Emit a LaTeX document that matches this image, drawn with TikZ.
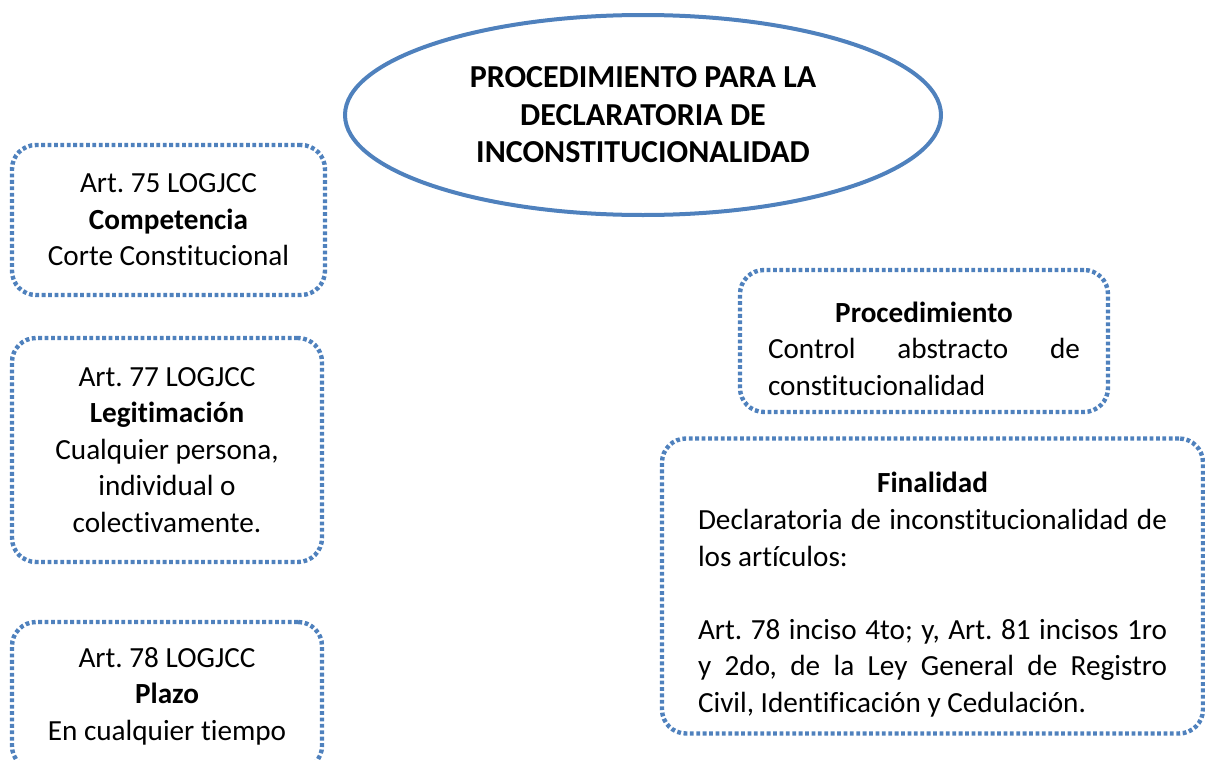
\documentclass[tikz,border=0pt]{standalone}
\usepackage{fontspec}
\setmainfont{Carlito}[Ligatures=NoCommon]
\usepackage{tikz}
\usetikzlibrary{shapes.geometric}
\definecolor{wordblue}{HTML}{4F81BD}
\frenchspacing

\begin{document}
\begin{tikzpicture}[x=0.5pt,y=-0.5pt,
  dotbox/.style={draw=wordblue, line width=2.2pt, dash pattern=on 1.9pt off 1.3pt,
    rounded corners=12pt, align=center, inner sep=0pt,
    font=\fontsize{14.6}{18.3}\selectfont},
  titleoval/.style={ellipse, draw=wordblue, line width=2pt, inner sep=0pt,
    align=center, font=\fontsize{16}{18.8}\selectfont\bfseries}]
\useasboundingbox (0,0) rectangle (1205,760);
% title
\node[titleoval, minimum width=298pt, minimum height=100pt] (title) at (643,115)
  {PROCEDIMIENTO PARA LA\\DECLARATORIA DE\\INCONSTITUCIONALIDAD};
% left column
\node[dotbox, minimum width=156.5pt, minimum height=75pt] (comp) at (168.5,220)
  {Art. 75 LOGJCC\\\textbf{Competencia}\\Corte Constitucional};
\node[dotbox, minimum width=155pt, minimum height=112pt] (legit) at (167,450)
  {Art. 77 LOGJCC\\\textbf{Legitimación}\\Cualquier persona,\\individual o\\colectivamente.};
\node[dotbox, minimum width=155pt, minimum height=74pt] (plazo) at (167,696)
  {Art. 78 LOGJCC\\\textbf{Plazo}\\En cualquier tiempo};
% right column
\node[dotbox, minimum width=184pt, minimum height=71pt] (proc) at (924,341)
  {\rule{0pt}{18pt}\textbf{Procedimiento}\\
   \makebox[156pt][s]{Control abstracto de}\\
   \makebox[156pt][l]{constitucionalidad}};
\node[dotbox, minimum width=270.5pt, minimum height=147.5pt] (final) at (932.5,586)
  {\rule{0pt}{19pt}\textbf{Finalidad}\\
   \makebox[234.5pt][s]{Declaratoria de inconstitucionalidad de}\\
   \makebox[234.5pt][l]{los artículos:}\\[18.3pt]
   \makebox[234.5pt][s]{Art. 78 inciso 4to; y, Art. 81 incisos 1ro}\\
   \makebox[234.5pt][s]{y 2do, de la Ley General de Registro}\\
   \makebox[234.5pt][l]{Civil, Identificación y Cedulación.}};
\end{tikzpicture}
\end{document}
